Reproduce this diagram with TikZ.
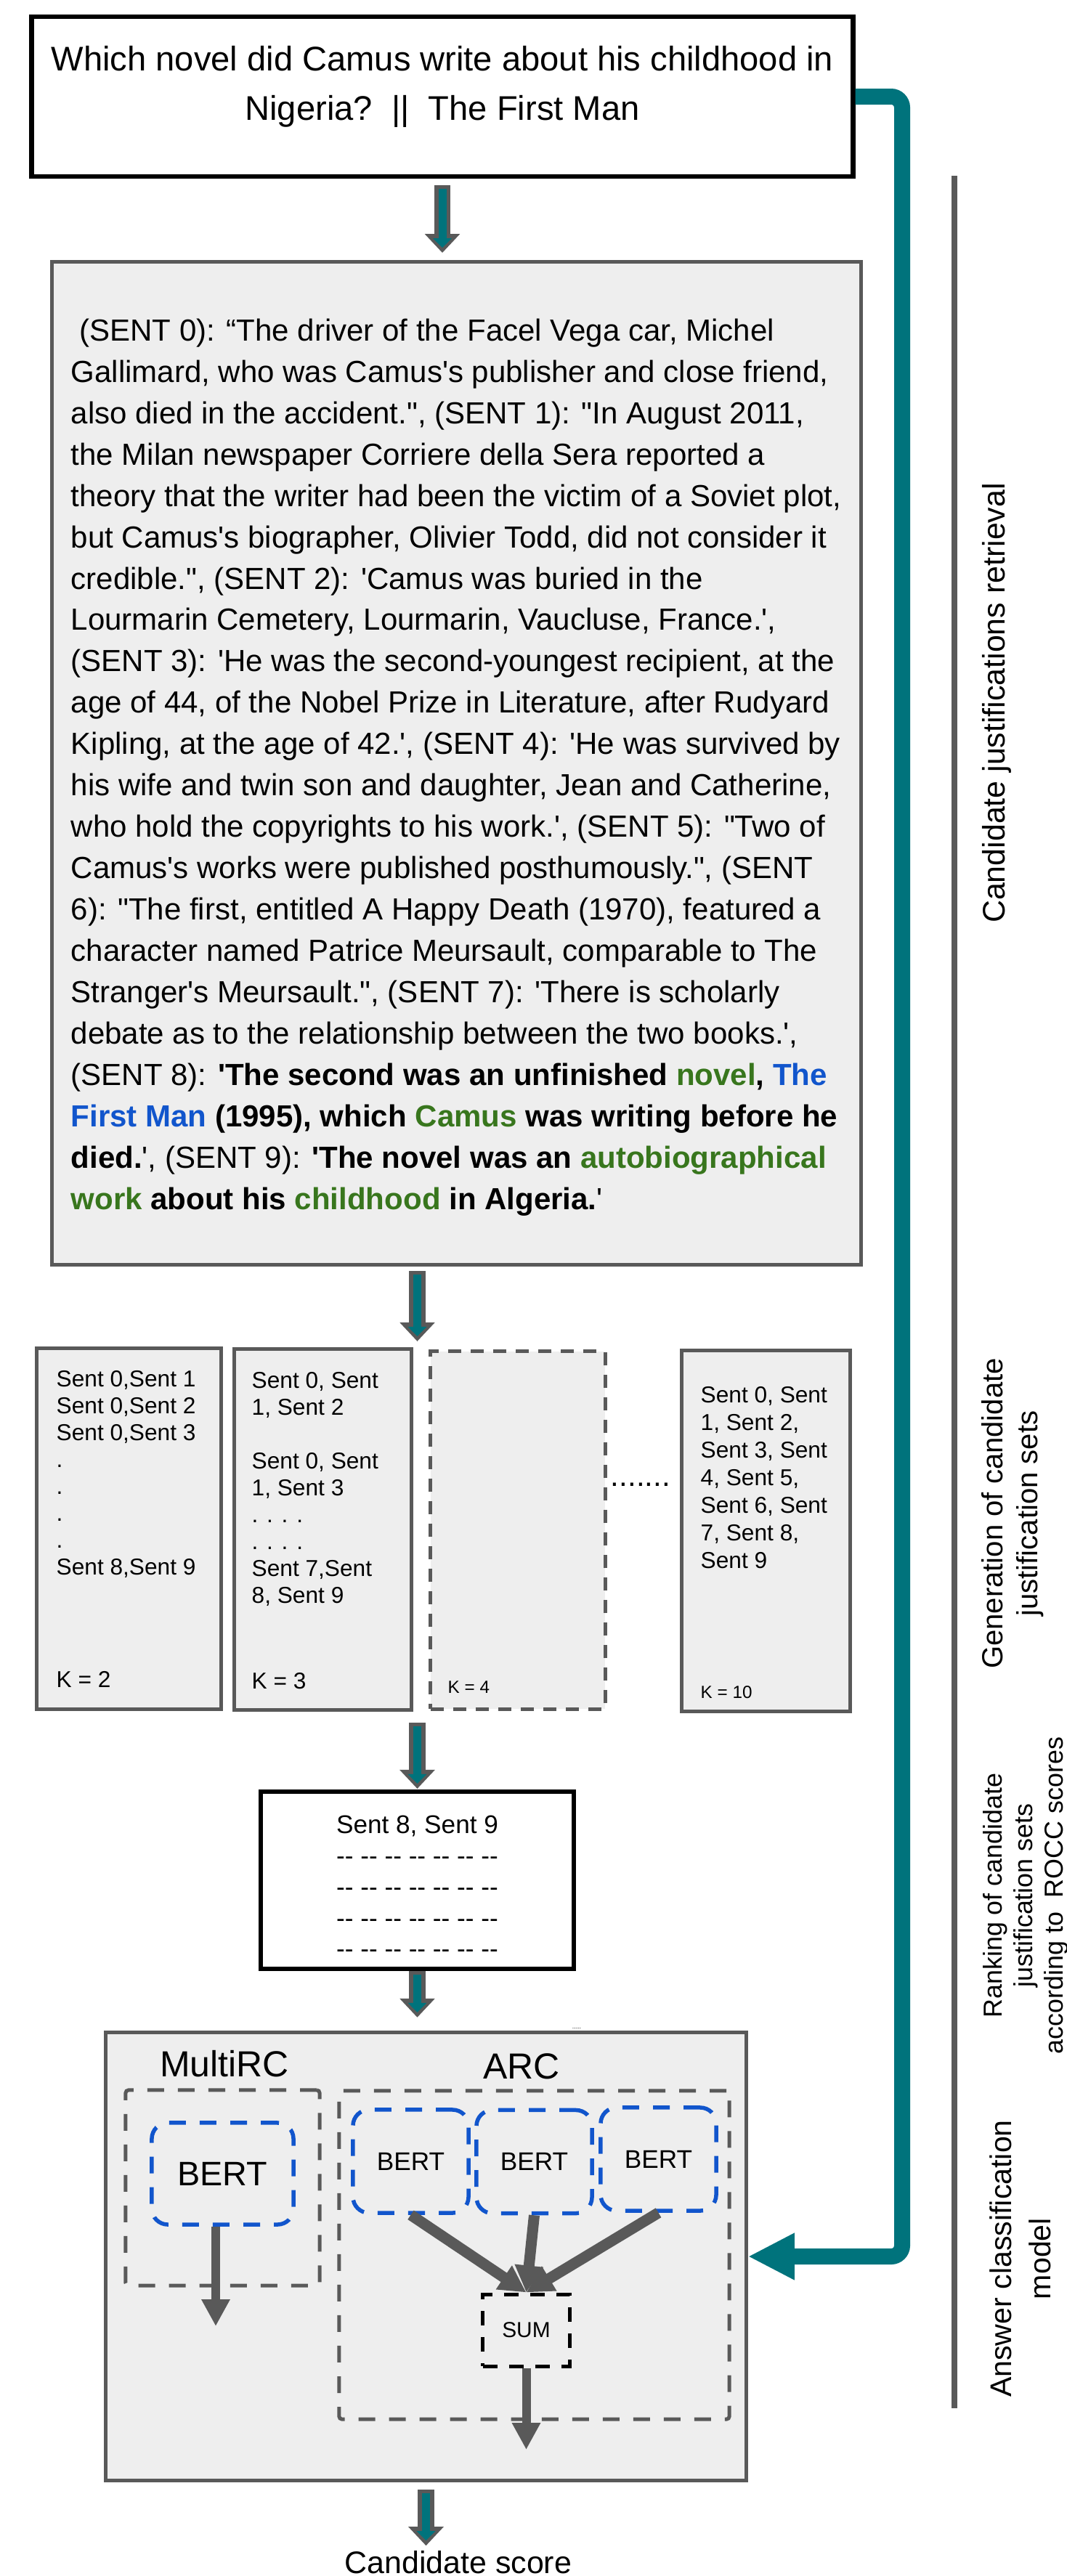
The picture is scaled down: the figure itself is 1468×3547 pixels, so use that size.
\documentclass[tikz,border=0pt]{standalone}
\usepackage{fontspec}
\setmainfont{Liberation Sans}[Ligatures=TeXOff]
\usetikzlibrary{arrows.meta}
\definecolor{boxgray}{HTML}{EEEEEE}
\definecolor{linegray}{HTML}{595959}
\definecolor{tealc}{HTML}{00737C}
\definecolor{bertblue}{HTML}{1155CC}
\definecolor{hlgreen}{HTML}{38761D}
\newcommand{\gw}[1]{\textcolor{hlgreen}{#1}}
\newcommand{\bw}[1]{\textcolor{bertblue}{#1}}
\newcommand{\fsz}[2]{\fontsize{#1}{#2}\selectfont}

\begin{document}
\begin{tikzpicture}[x=0.01cm, y=-0.01cm,
  every node/.style={inner sep=0pt},
  gbox/.style={draw=linegray, fill=boxgray, line width=0.05cm},
  grdash/.style={draw=linegray, line width=0.05cm, dash pattern=on 0.23cm off 0.19cm, rounded corners=0.04cm},
  bluedash/.style={draw=bertblue, line width=0.055cm, dash pattern=on 0.23cm off 0.19cm, rounded corners=0.22cm},
  blkout/.style={draw=linegray, line width=0.22cm, -{Triangle[length=0.26cm,width=0.47cm]}},
  blkin/.style={draw=tealc, line width=0.11cm, -{Triangle[length=0.13cm,width=0.25cm]}},
  garrow/.style={draw=linegray, line width=0.12cm, -{Triangle[length=0.37cm,width=0.37cm]}}]
\useasboundingbox (0,0) rectangle (1468,3547);

% question
\node[draw=black, line width=0.065cm, fill=white, minimum width=11.3cm, minimum height=2.2cm] (q) at (609,133) {};
\node[anchor=north, align=center, font=\fsz{13.4}{19.3}] at (609,63) {Which novel did Camus write about his childhood in\\Nigeria?\ \ ||\ \ The First Man};

% retrieved sentences
\node[gbox, minimum width=11.13cm, minimum height=13.8cm] (body) at (628.5,1051) {};
\node[anchor=north west, align=left, font=\fsz{11.95}{16.2}] at (97,438) {%
\ (SENT 0): “The driver of the Facel Vega car, Michel\\
Gallimard, who was Camus's publisher and close friend,\\
also died in the accident.", (SENT 1): "In August 2011,\\
the Milan newspaper Corriere della Sera reported a\\
theory that the writer had been the victim of a Soviet plot,\\
but Camus's biographer, Olivier Todd, did not consider it\\
credible.", (SENT 2): 'Camus was buried in the\\
Lourmarin Cemetery, Lourmarin, Vaucluse, France.',\\
(SENT 3): 'He was the second-youngest recipient, at the\\
age of 44, of the Nobel Prize in Literature, after Rudyard\\
Kipling, at the age of 42.', (SENT 4): 'He was survived by\\
his wife and twin son and daughter, Jean and Catherine,\\
who hold the copyrights to his work.', (SENT 5): "Two of\\
Camus's works were published posthumously.", (SENT\\
6): "The first, entitled A Happy Death (1970), featured a\\
character named Patrice Meursault, comparable to The\\
Stranger's Meursault.", (SENT 7): 'There is scholarly\\
debate as to the relationship between the two books.',\\
(SENT 8): \textbf{'The second was an unfinished \gw{novel}, \bw{The}}\\
\textbf{\bw{First Man} (1995), which \gw{Camus} was writing before he}\\
\textbf{died.}', (SENT 9): \textbf{'The novel was an \gw{autobiographical}}\\
\textbf{\gw{work} about his \gw{childhood} in Algeria.}'};

% candidate sets
\node[gbox, minimum width=2.53cm, minimum height=4.96cm] (k2) at (177.5,2105) {};
\node[gbox, minimum width=2.43cm, minimum height=4.96cm] (k3) at (444.5,2106) {};
\node[gbox, dash pattern=on 0.18cm off 0.13cm, minimum width=2.4cm, minimum height=4.92cm] (k4) at (713,2107) {};
\node[gbox, minimum width=2.31cm, minimum height=4.96cm] (k10) at (1054.5,2108) {};
\node[anchor=north west, align=left, font=\fsz{9}{10.5}] at (77,1887) {Sent 0,Sent 1\\Sent 0,Sent 2\\Sent 0,Sent 3\\.\\.\\.\\.\\Sent 8,Sent 9};
\node[anchor=north west, align=left, font=\fsz{9}{10.5}] at (346,1889) {Sent 0, Sent\\1, Sent 2\\[10.5pt]Sent 0, Sent\\1, Sent 3\\. . . .\\. . . .\\Sent 7,Sent\\8, Sent 9};
\node[anchor=north west, align=left, font=\fsz{9}{10.8}] at (964,1909) {Sent 0, Sent\\1, Sent 2,\\Sent 3, Sent\\4, Sent 5,\\Sent 6, Sent\\7, Sent 8,\\Sent 9};
\node[anchor=base west, font=\fsz{9}{10.5}] at (77,2323) {K = 2};
\node[anchor=base west, font=\fsz{9}{10.5}] at (346,2325) {K = 3};
\node[anchor=base west, font=\fsz{6.9}{8}] at (616,2331) {K = 4};
\node[anchor=base west, font=\fsz{6.9}{8}] at (964,2338) {K = 10};
\node[anchor=base, font=\fsz{12}{14}] at (882,2046) {.......};

% selected set
\node[draw=black, line width=0.06cm, fill=white, minimum width=4.31cm, minimum height=2.44cm] (sel) at (574.5,2589) {};
\node[anchor=north, align=center, font=\fsz{10}{12.2}] at (574.5,2499) {Sent 8, Sent 9\\-- -- -- -- -- -- --\\-- -- -- -- -- -- --\\-- -- -- -- -- -- --\\-- -- -- -- -- -- --};

% answer classification
\node[gbox, minimum width=8.81cm, minimum height=6.16cm] (model) at (586.5,3107) {};
\node[font=\fsz{14.2}{17}] at (309,2842) {MultiRC};
\node[font=\fsz{14.2}{17}] at (718,2845) {ARC};
\node[font=\fsz{2.5}{3}] at (794,2793) {.....};
\node[grdash, minimum width=2.67cm, minimum height=2.69cm] (mbox) at (306.5,3012.5) {};
\node[bluedash, minimum width=1.95cm, minimum height=1.4cm, font=\fsz{13.3}{16}] (mbert) at (306.5,2993) {BERT};
\node[grdash, minimum width=5.37cm, minimum height=4.52cm] (abox) at (735.5,3105) {};
\foreach \n/\x/\y in {b1/565.5/2976, b2/735.5/2976.5, b3/906.5/2973}
  \node[bluedash, minimum width=1.59cm, minimum height=1.42cm, font=\fsz{10}{12}] (\n) at (\x,\y) {BERT};
\node[draw=black, line width=0.05cm, dash pattern=on 0.2cm off 0.16cm, minimum width=1.19cm, minimum height=0.99cm, font=\fsz{8.5}{10}] (sum) at (724.5,3208.5) {SUM};
\coordinate (mout) at (297,3203);
\coordinate (sout) at (724.5,3373);
\draw[garrow] (mbert.south -| mout) -- (mout);
\foreach \n in {b1,b2,b3}
  \draw[garrow, line width=0.15cm] (\n.south) -- (sum.north);
\draw[garrow] (sum.south) -- (sout);

\node[anchor=base, font=\fsz{12.2}{15}] (score) at (631,3543) {Candidate score};

% flow arrows
\draw[blkout, shorten <=0.09cm, shorten >=0.1cm] (q.south) -- (q.south |- body.north);
\draw[blkin, shorten <=0.14cm, shorten >=0.17cm] (q.south) -- (q.south |- body.north);
\draw[blkout, shorten <=0.065cm, shorten >=0.075cm] (body.south -| sel.north) -- (sel.north |- k2.north);
\draw[blkin, shorten <=0.115cm, shorten >=0.145cm] (body.south -| sel.north) -- (sel.north |- k2.north);
\draw[blkout, shorten <=0.165cm, shorten >=0.01cm] (sel.north |- k2.south) -- (sel.north);
\draw[blkin, shorten <=0.215cm, shorten >=0.08cm] (sel.north |- k2.south) -- (sel.north);
\draw[blkout, shorten >=0.185cm] (sel.south) -- (sel.south |- model.north);
\draw[blkin, shorten <=0.05cm, shorten >=0.255cm] (sel.south) -- (sel.south |- model.north);
\draw[blkout, shorten <=0.105cm, shorten >=0.06cm] (model.south) -- (model.south |- score.north);
\draw[blkin, shorten <=0.155cm, shorten >=0.13cm] (model.south) -- (model.south |- score.north);

% question to the classifier
\draw[tealc, line width=0.22cm, rounded corners=0.15cm, -{Triangle[length=0.64cm,width=0.6cm]}] (q.east) -- (1242,133) -- (1242,3107) -- (model.east |- 0,3107);

% stages
\draw[linegray, line width=0.08cm] (1314,242) -- (1314,3316);
\node[rotate=90, font=\fsz{12.2}{15}] at (1372,968) {Candidate justifications retrieval};
\node[rotate=90, align=center, font=\fsz{11.4}{13.7}] at (1394,2084) {Generation of candidate\\justification sets};
\node[rotate=90, align=center, font=\fsz{10.2}{11.9}] at (1412,2610) {Ranking of candidate\\justification sets\\according to\ \ ROCC scores};
\node[rotate=90, align=center, font=\fsz{11.7}{15.4}] at (1405,3110) {Answer classification\\model};
\end{tikzpicture}
\end{document}
